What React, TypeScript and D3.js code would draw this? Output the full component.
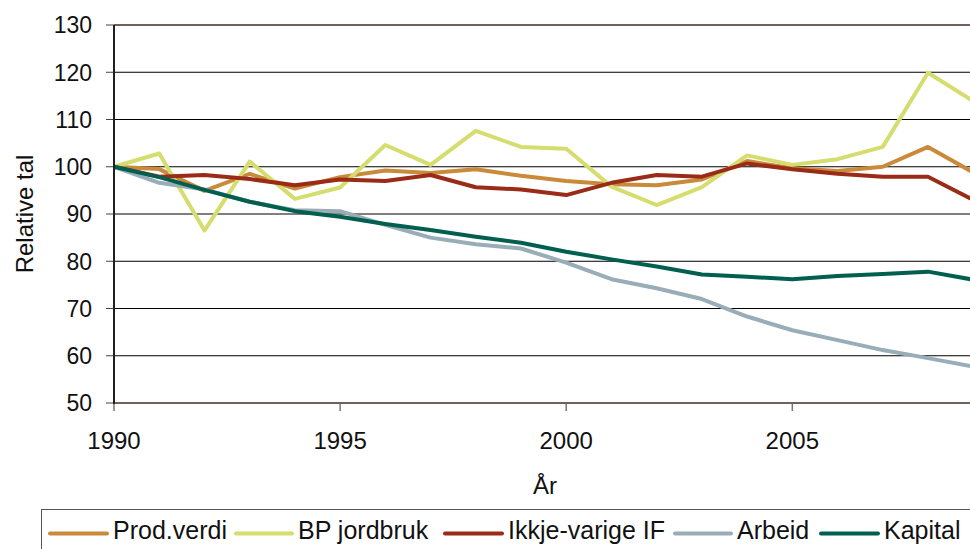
import React from "react";
import * as d3 from "d3";

const years = [1990, 1991, 1992, 1993, 1994, 1995, 1996, 1997, 1998, 1999, 2000, 2001, 2002, 2003, 2004, 2005, 2006, 2007, 2008, 2009];
const prodVerdi = [100, 99.5, 94.9, 98.5, 95.4, 97.8, 99.2, 98.7, 99.45, 98.1, 97.0, 96.3, 96.1, 97.3, 101.2, 99.7, 99.1, 100.0, 104.2, 98.8];
const bpJordbruk = [100, 102.8, 86.5, 101.1, 93.2, 95.6, 104.6, 100.4, 107.6, 104.2, 103.8, 95.8, 91.9, 95.7, 102.4, 100.4, 101.6, 104.2, 119.9, 113.9];
const ikkjeVarige = [100, 97.9, 98.25, 97.4, 96.1, 97.3, 97.0, 98.25, 95.65, 95.2, 94.0, 96.6, 98.25, 97.9, 100.7, 99.45, 98.5, 97.9, 97.9, 93.0];
const arbeid = [100, 96.6, 95.2, 92.6, 90.8, 90.6, 87.7, 85.0, 83.6, 82.7, 79.7, 76.2, 74.3, 72.0, 68.3, 65.4, 63.3, 61.2, 59.5, 57.7];
const kapital = [100, 97.8, 95.1, 92.6, 90.6, 89.4, 87.9, 86.6, 85.2, 83.9, 82.0, 80.4, 78.9, 77.2, 76.7, 76.2, 76.9, 77.3, 77.8, 76.1];

const seriesNames = ["Prod.verdi", "BP jordbruk", "Ikkje-varige IF", "Arbeid", "Kapital"];
const seriesColors = ["#C98A3A", "#D5DD6F", "#9A2B17", "#98ADB8", "#005F4E"];
const seriesValues = [prodVerdi, bpJordbruk, ikkjeVarige, arbeid, kapital];

const yTicks = [50, 60, 70, 80, 90, 100, 110, 120, 130];
const xTicks = [1990, 1995, 2000, 2005];

const W = 970;
const H = 549;
const FONT = "'Liberation Sans', Arial, sans-serif";

export default function App() {
  const x = d3.scaleLinear().domain([1990, 2009]).range([114, 973.2]);
  const y = d3.scaleLinear().domain([50, 130]).range([403, 25]);
  const line = d3
    .line<number>()
    .x((_, i) => x(years[i]))
    .y((d) => y(d));

  const legendX = [50, 236, 445, 675, 821];
  const legendLen = [57, 56, 57, 56, 57];

  return (
    <svg
      width={W}
      height={H}
      style={{ position: "fixed", left: 0, top: 0, background: "#fff" }}
      fontFamily={FONT}
    >
      <rect x={0} y={0} width={W} height={H} fill="#fff" />
      {/* gridlines */}
      {yTicks
        .filter((t) => t !== 50 && t !== 130)
        .map((t) => (
          <line key={t} x1={x(1990)} x2={W} y1={y(t)} y2={y(t)} stroke="#000" strokeWidth={1} />
        ))}
      {/* top border */}
      <line x1={x(1990)} x2={W} y1={y(130)} y2={y(130)} stroke="#6f625b" strokeWidth={2} />
      {/* y ticks */}
      {yTicks.map((t) => (
        <g key={t}>
          <line x1={106} x2={114} y1={y(t)} y2={y(t)} stroke="#444" strokeWidth={1} />
          <text x={92} y={y(t) + 8.3} textAnchor="end" fontSize={23} fill="#111">
            {t}
          </text>
        </g>
      ))}
      {/* x ticks */}
      {xTicks.map((t) => (
        <g key={t}>
          <line x1={x(t)} x2={x(t)} y1={y(50)} y2={y(50) + 8} stroke="#777" strokeWidth={1.5} />
          <text x={x(t)} y={449} textAnchor="middle" fontSize={24} fill="#111">
            {t}
          </text>
        </g>
      ))}
      {/* series */}
      {seriesValues.map((vals, i) => (
        <path
          key={seriesNames[i]}
          d={line(vals) || ""}
          fill="none"
          stroke={seriesColors[i]}
          strokeWidth={4}
          strokeLinejoin="round"
        />
      ))}
      {/* axes */}
      <line x1={x(1990)} x2={W} y1={y(50)} y2={y(50)} stroke="#6f625b" strokeWidth={2} />
      <line x1={x(1990)} x2={x(1990)} y1={y(130)} y2={y(50) + 1} stroke="#231f20" strokeWidth={2} />
      {/* axis titles */}
      <text x={545} y={494} textAnchor="middle" fontSize={24} fill="#111">
        År
      </text>
      <text
        transform={`translate(33, ${(y(50) + y(130)) / 2}) rotate(-90)`}
        textAnchor="middle"
        fontSize={24}
        fill="#111"
      >
        Relative tal
      </text>
      {/* legend */}
      <rect x={41.5} y={509.5} width={940} height={60} fill="none" stroke="#555" strokeWidth={1} />
      {seriesNames.map((n, i) => (
        <g key={n}>
          <line
            x1={legendX[i]}
            x2={legendX[i] + legendLen[i]}
            y1={533.5}
            y2={533.5}
            stroke={seriesColors[i]}
            strokeWidth={4}
            strokeLinecap="round"
          />
          <text x={legendX[i] + legendLen[i] + 6} y={538.5} fontSize={25} fill="#111">
            {n}
          </text>
        </g>
      ))}
    </svg>
  );
}
